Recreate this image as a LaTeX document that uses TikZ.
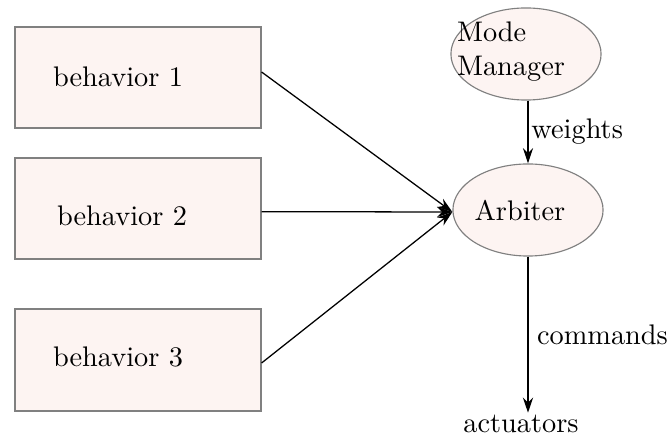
\documentclass[tikz,border=0pt]{standalone}
\usetikzlibrary{arrows.meta,shapes.geometric}
\definecolor{boxfill}{RGB}{253,244,242}
\definecolor{edgegray}{RGB}{128,128,128}
\begin{document}
\begin{tikzpicture}[x=0.353pt,y=-0.353pt,
  blockbox/.style={draw=edgegray, line width=0.65pt, fill=boxfill, minimum width=86.6pt, minimum height=35.8pt, inner sep=0pt},
  roundbox/.style={ellipse, draw=edgegray, line width=0.4pt, fill=boxfill, minimum width=53pt, minimum height=32.5pt, inner sep=0pt},
  flow/.style={-{Stealth[length=5.4pt,width=3.6pt,inset=1.8pt]}, line width=0.45pt},
  lbl/.style={inner sep=0pt}]
\useasboundingbox (0,0) rectangle (672,436);

% behaviour blocks
\node[blockbox] (b1) at (138,77.5) {};
\node[blockbox] (b2) at (138,208.3) {};
\node[blockbox] (b3) at (138,360) {};
\node[lbl] (t1) at (118,77) {behavior 1};
\node[lbl] (t2) at (122,216) {behavior 2};
\node[lbl] (t3) at (118,357) {behavior 3};

% mode manager and arbiter
\node[roundbox] (mm) at (526,54) {};
\node[lbl, align=left] (mmt) at (511,52) {Mode\\Manager};
\node[roundbox] (arb) at (528,210) {};
\node[lbl] (arbt) at (520,211) {Arbiter};

% output
\node[anchor=base, inner sep=0.8pt] (act) at (521,433) {actuators};

% connectors
\draw[flow] ([yshift=1.94pt]b1.east) -- ([yshift=-0.7pt]arb.west);
\draw[flow] ([yshift=-1.2pt]b2.east) -- ([yshift=-0.7pt]arb.west);
\draw[flow] ([yshift=-1.06pt]b3.east) -- ([yshift=-0.7pt]arb.west);
\draw[flow] (arb |- mm.south) -- node[right, inner sep=1pt] {weights} (arb.north);
\draw[flow] (arb.south) -- node[right, inner sep=3pt] {commands} (arb.south |- act.north);
\end{tikzpicture}
\end{document}
